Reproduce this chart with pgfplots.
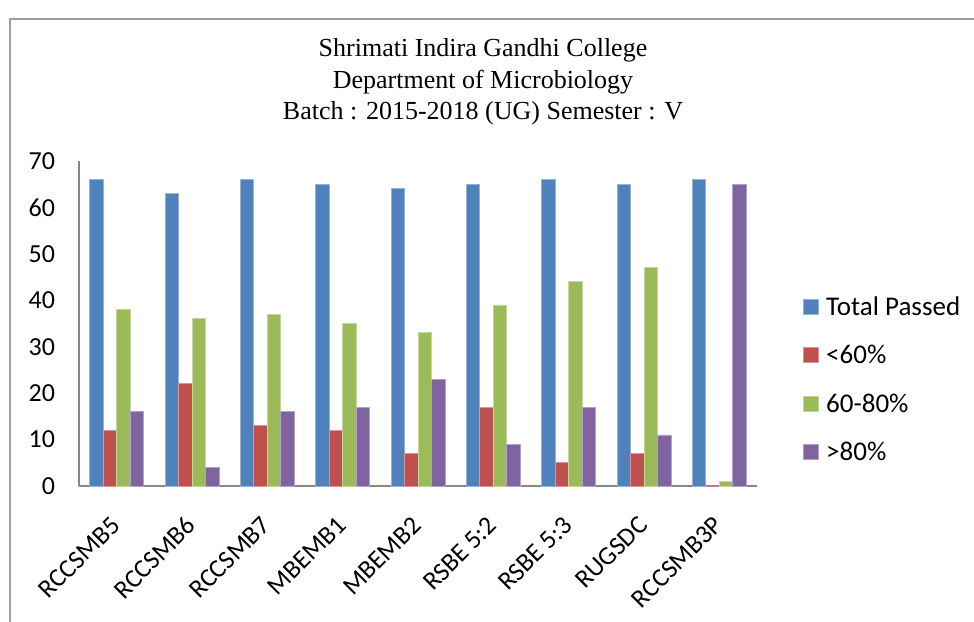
\documentclass[border=0pt]{standalone}
\usepackage{fontspec}
\setmainfont{Carlito}
\newfontfamily\timesf{Liberation Serif}
\usepackage{pgfplots}
\pgfplotsset{compat=1.18}
\definecolor{cBlue}{HTML}{4F81BD}
\definecolor{cRed}{HTML}{C0504D}
\definecolor{cGreen}{HTML}{9BBB59}
\definecolor{cPurple}{HTML}{8064A2}
\definecolor{axgray}{HTML}{868686}
\begin{document}
\begin{tikzpicture}
\useasboundingbox (0,0) rectangle (487pt,310.5pt);
\draw[axgray!80, line width=0.9pt] (5pt,-5pt) -- (5pt,301pt) -- (495pt,301pt);
\node[font=\timesf\fontsize{13}{15}\selectfont, anchor=base] at (241.5pt,282pt) {Shrimati Indira Gandhi College};
\node[font=\timesf\fontsize{13}{15}\selectfont, anchor=base] at (241.5pt,266.25pt) {Department of Microbiology};
\node[font=\timesf\fontsize{13}{15}\selectfont, anchor=base] at (241.5pt,250.5pt) {Batch : 2015-2018 (UG) Semester : V};
\begin{axis}[
  at={(39.5pt,67.5pt)}, anchor=south west,
  scale only axis, width=339pt, height=162.5pt,
  xmin=-0.5, xmax=8.5, ymin=0, ymax=70,
  ytick={0,10,...,70},
  xtick={0,...,8},
  xticklabels={RCCSMB5,RCCSMB6,RCCSMB7,MBEMB1,MBEMB2,RSBE 5:2,RSBE 5:3,RUGSDC,RCCSMB3P},
  axis x line*=bottom, axis y line*=left,
  axis line style={axgray, line width=1pt, -},
  major tick length=0pt,
  /pgf/number format/assume math mode=true,
  ticklabel style={font=\fontsize{13}{15}\selectfont},
  yticklabel style={xshift=-8.5pt},
  xticklabel style={yshift=-15pt, xshift=2pt, rotate=45, anchor=east},
  ybar, bar width=0.179,
  legend style={draw=none, at={(1,0.32)}, anchor=west, xshift=20pt,
    font=\fontsize{13.5}{15}\selectfont, row sep=13.2pt,
    nodes={inner sep=0pt, text height=8.5pt, text depth=2.5pt},
    /tikz/every odd column/.append style={column sep=3.5pt}},
  legend cell align=left,
  legend image code/.code={\fill[#1] (0pt,-2.5pt) rectangle (7.5pt,5pt);},
]
\addplot[bar shift=-0.2685, fill=cBlue, draw=cBlue!60!white, line width=0.4pt]
  coordinates {(0,66) (1,63) (2,66) (3,65) (4,64) (5,65) (6,66) (7,65) (8,66)};
\addplot[bar shift=-0.0895, fill=cRed, draw=cRed!60!white, line width=0.4pt]
  coordinates {(0,12) (1,22) (2,13) (3,12) (4,7) (5,17) (6,5) (7,7) (8,0)};
\addplot[bar shift=0.0895, fill=cGreen, draw=cGreen!60!white, line width=0.4pt]
  coordinates {(0,38) (1,36) (2,37) (3,35) (4,33) (5,39) (6,44) (7,47) (8,1)};
\addplot[bar shift=0.2685, fill=cPurple, draw=cPurple!60!white, line width=0.4pt]
  coordinates {(0,16) (1,4) (2,16) (3,17) (4,23) (5,9) (6,17) (7,11) (8,65)};
\legend{Total Passed,<60\%,60-80\%,>80\%}
\end{axis}
\end{tikzpicture}
\end{document}
